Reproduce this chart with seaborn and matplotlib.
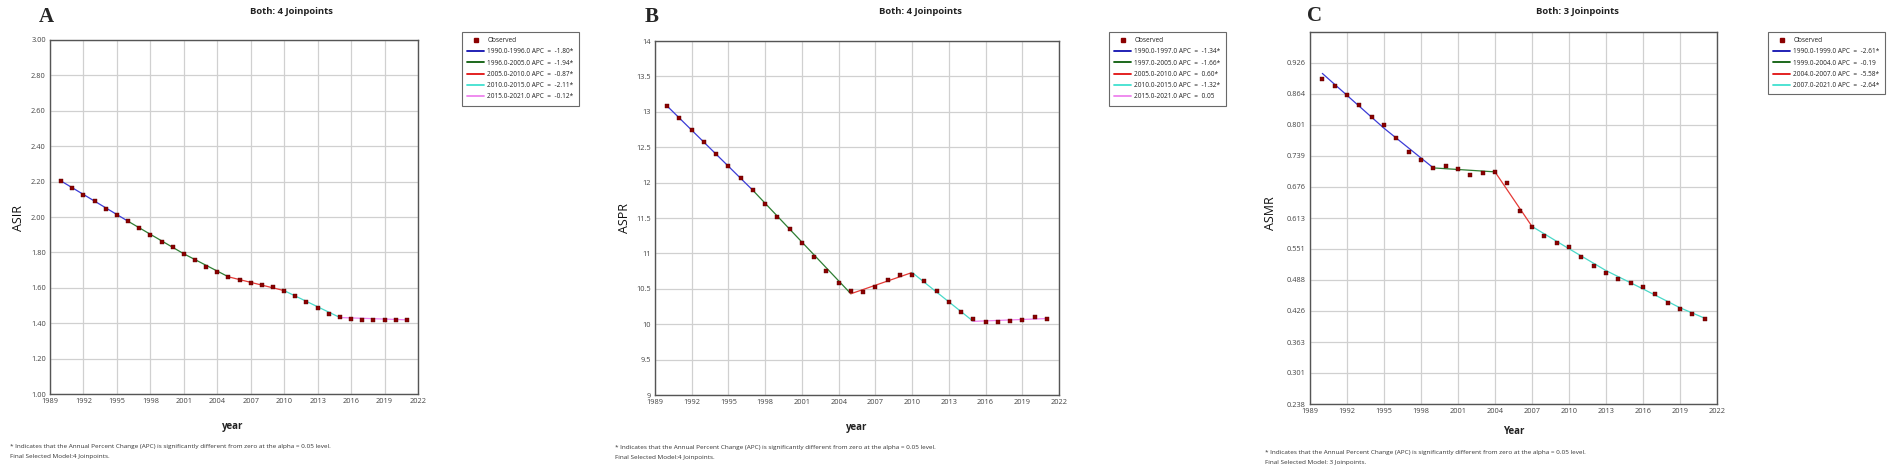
import numpy as np
import pandas as pd
import matplotlib
matplotlib.use("Agg")
import matplotlib.pyplot as plt
from matplotlib.lines import Line2D
import seaborn as sns

# ---------------- data ----------------
years = list(range(1990, 2022))

asir = [2.203, 2.165, 2.125, 2.088, 2.048, 2.012, 1.976, 1.937, 1.899, 1.861,
        1.828, 1.792, 1.756, 1.720, 1.688, 1.662, 1.643, 1.628, 1.615, 1.603,
        1.584, 1.556, 1.522, 1.484, 1.454, 1.434, 1.424, 1.418, 1.418, 1.418,
        1.420, 1.417]
# fitted joinpoint segments (years and fitted values)
asir_fit_years = [[1990, 1996], [1996, 2001, 2005], [2005, 2010], [2010, 2015], [2015, 2021]]
asir_fit_vals = [[2.203, 1.976], [1.976, 1.792, 1.662], [1.662, 1.584], [1.584, 1.432], [1.432, 1.419]]
asir_labels = ["1990.0-1996.0 APC  =  -1.80*", "1996.0-2005.0 APC  =  -1.94*",
               "2005.0-2010.0 APC  =  -0.87*", "2010.0-2015.0 APC  =  -2.11*",
               "2015.0-2021.0 APC  =  -0.12*"]

aspr = [13.08, 12.91, 12.74, 12.57, 12.40, 12.24, 12.07, 11.89, 11.70, 11.52,
        11.34, 11.15, 10.95, 10.75, 10.58, 10.47, 10.46, 10.53, 10.62, 10.69,
        10.70, 10.61, 10.47, 10.32, 10.17, 10.08, 10.03, 10.03, 10.04, 10.06,
        10.10, 10.07]
aspr_fit_years = [[1990, 1997], [1997, 2005], [2005, 2010], [2010, 2015], [2015, 2021]]
aspr_fit_vals = [[13.08, 11.89], [11.89, 10.43], [10.43, 10.73], [10.73, 10.04], [10.04, 10.08]]
aspr_labels = ["1990.0-1997.0 APC  =  -1.34*", "1997.0-2005.0 APC  =  -1.66*",
               "2005.0-2010.0 APC  =  0.60*", "2010.0-2015.0 APC  =  -1.32*",
               "2015.0-2021.0 APC  =  0.05"]

asmr = [0.894, 0.880, 0.861, 0.840, 0.816, 0.800, 0.774, 0.747, 0.729, 0.714,
        0.718, 0.712, 0.700, 0.704, 0.705, 0.683, 0.628, 0.594, 0.576, 0.563,
        0.555, 0.534, 0.516, 0.502, 0.490, 0.481, 0.473, 0.459, 0.441, 0.429,
        0.419, 0.410]
asmr_fit_years = [[1990, 1995, 1999], [1999, 2004], [2004, 2007],
                  [2007, 2010, 2013, 2016, 2019, 2021]]
asmr_fit_vals = [[0.9045, 0.794, 0.714], [0.714, 0.706], [0.706, 0.596],
                 [0.596, 0.551, 0.507, 0.470, 0.432, 0.411]]
asmr_labels = ["1990.0-1999.0 APC  =  -2.61*", "1999.0-2004.0 APC  =  -0.19",
               "2004.0-2007.0 APC  =  -5.58*", "2007.0-2021.0 APC  =  -2.64*"]

x_ticks = [1989, 1992, 1995, 1998, 2001, 2004, 2007, 2010, 2013, 2016, 2019, 2022]
asir_ticks = [1.00, 1.20, 1.40, 1.60, 1.80, 2.00, 2.20, 2.40, 2.60, 2.80, 3.00]
asir_ticklabels = ["1.00", "1.20", "1.40", "1.60", "1.80", "2.00", "2.20", "2.40", "2.60", "2.80", "3.00"]
aspr_ticks = [9, 9.5, 10, 10.5, 11, 11.5, 12, 12.5, 13, 13.5, 14]
aspr_ticklabels = ["9", "9.5", "10", "10.5", "11", "11.5", "12", "12.5", "13", "13.5", "14"]
asmr_ticks = [0.238, 0.301, 0.363, 0.426, 0.488, 0.551, 0.613, 0.676, 0.739, 0.801, 0.864, 0.926]
asmr_ticklabels = ["0.238", "0.301", "0.363", "0.426", "0.488", "0.551", "0.613", "0.676",
                   "0.739", "0.801", "0.864", "0.926"]

seg_colors = ["#3b3bd6", "#2e7d32", "#e53935", "#48d8c8", "#ee82ee"]
leg_colors = ["#1010b0", "#0b5d0b", "#e01010", "#40e0d0", "#ee82ee"]
obs_color = "#8b0000"

# ---------------- figure ----------------
sns.set_theme(style="white")
plt.rcParams["font.family"] = ["Open Sans", "DejaVu Sans"]

W, H = 1902, 473
fig = plt.figure(figsize=(W / 100, H / 100), dpi=100)
fig.patch.set_facecolor("white")


def px_axes(l, t, r, b):
    return fig.add_axes([l / W, 1 - b / H, (r - l) / W, (b - t) / H])


def fx(x):
    return x / W


def fy(y):
    return 1 - y / H


panels = [
    dict(rect=(50, 40, 418, 394), vals=asir, fy_=asir_fit_years, fv=asir_fit_vals,
         labels=asir_labels, ticks=asir_ticks, ticklabels=asir_ticklabels,
         ylim=(1.0, 3.0), ylabel="ASIR", ylab_xy=(18, 218), letter="A", letter_xy=(46, 17),
         title="Both: 4 Joinpoints", title_xy=(291, 11), xlabel="year", xlab_xy=(233, 426),
         leg_xy=(462, 32), foot_xy=(10, 446), model="Final Selected Model:4 Joinpoints."),
    dict(rect=(655, 41, 1059, 395), vals=aspr, fy_=aspr_fit_years, fv=aspr_fit_vals,
         labels=aspr_labels, ticks=aspr_ticks, ticklabels=aspr_ticklabels,
         ylim=(9, 14), ylabel="ASPR", ylab_xy=(625, 218), letter="B", letter_xy=(652, 17),
         title="Both: 4 Joinpoints", title_xy=(920, 11), xlabel="year", xlab_xy=(857, 427),
         leg_xy=(1109, 32), foot_xy=(615, 447), model="Final Selected Model:4 Joinpoints."),
    dict(rect=(1310, 32, 1717, 404), vals=asmr, fy_=asmr_fit_years, fv=asmr_fit_vals,
         labels=asmr_labels, ticks=asmr_ticks, ticklabels=asmr_ticklabels,
         ylim=(0.238, 0.988), ylabel="ASMR", ylab_xy=(1270, 213), letter="C", letter_xy=(1314, 16),
         title="Both: 3 Joinpoints", title_xy=(1577, 11), xlabel="Year", xlab_xy=(1514, 431),
         leg_xy=(1768, 32), foot_xy=(1265, 452), model="Final Selected Model: 3 Joinpoints."),
]

for p in panels:
    ax = px_axes(*p["rect"])
    ax.set_facecolor("white")
    # fitted segments
    for i, (yrs, vals) in enumerate(zip(p["fy_"], p["fv"])):
        seg = pd.DataFrame({"year": yrs, "val": vals})
        sns.lineplot(data=seg, x="year", y="val", ax=ax, color=seg_colors[i],
                     linewidth=0.9, zorder=3)
    obs = pd.DataFrame({"year": years, "val": p["vals"]})
    sns.scatterplot(data=obs, x="year", y="val", ax=ax, marker="s", s=11,
                    color=obs_color, edgecolor="#5a0000", linewidth=0.3, zorder=4)

    ax.set_xlim(1989, 2022)
    ax.set_ylim(*p["ylim"])
    ax.set_xticks(x_ticks)
    ax.set_xticklabels([str(t) for t in x_ticks])
    ax.set_yticks(p["ticks"])
    ax.set_yticklabels(p["ticklabels"])
    ax.tick_params(axis="both", length=0, labelsize=5.3, colors="#444444", pad=3)
    ax.grid(True, color="#d0d0d0", linewidth=0.9)
    ax.set_axisbelow(True)
    for s in ax.spines.values():
        s.set_visible(True)
        s.set_color("#555555")
        s.set_linewidth(1.0)
    ax.set_xlabel("")
    ax.set_ylabel("")

    fig.text(fx(p["ylab_xy"][0]), fy(p["ylab_xy"][1]), p["ylabel"], rotation=90,
             ha="center", va="center", fontsize=9, color="#111111")
    fig.text(fx(p["letter_xy"][0]), fy(p["letter_xy"][1]), p["letter"], ha="center",
             va="center", fontsize=15, fontweight="bold", family="Liberation Serif")
    fig.text(fx(p["title_xy"][0]), fy(p["title_xy"][1]), p["title"], ha="center",
             va="center", fontsize=6.8, fontweight="bold", color="#222222")
    fig.text(fx(p["xlab_xy"][0]), fy(p["xlab_xy"][1]), p["xlabel"], ha="center",
             va="center", fontsize=7, fontweight="bold", color="#222222")
    fig.text(fx(p["foot_xy"][0]), fy(p["foot_xy"][1]),
             "* Indicates that the Annual Percent Change (APC) is significantly different from zero at the alpha = 0.05 level.",
             ha="left", va="center", fontsize=4.6, color="#333333")
    fig.text(fx(p["foot_xy"][0]), fy(p["foot_xy"][1] + 10), p["model"],
             ha="left", va="center", fontsize=4.6, color="#333333")

    handles = [Line2D([], [], linestyle="none", marker="s", markersize=2.5,
                      color=obs_color, label="Observed")]
    for i, lab in enumerate(p["labels"]):
        handles.append(Line2D([], [], color=leg_colors[i], linewidth=1.3, label=lab))
    leg = fig.legend(handles=handles, loc="upper left",
                     bbox_to_anchor=(fx(p["leg_xy"][0]), fy(p["leg_xy"][1])),
                     fontsize=4.7, frameon=True, fancybox=False, labelspacing=0.65,
                     handlelength=2.6, handletextpad=0.5, borderpad=0.8,
                     borderaxespad=0)
    leg.get_frame().set_edgecolor("#444444")
    leg.get_frame().set_linewidth(0.8)
    for t in leg.get_texts():
        t.set_color("#222222")

fig.savefig("out.png", dpi=100, facecolor="white")
